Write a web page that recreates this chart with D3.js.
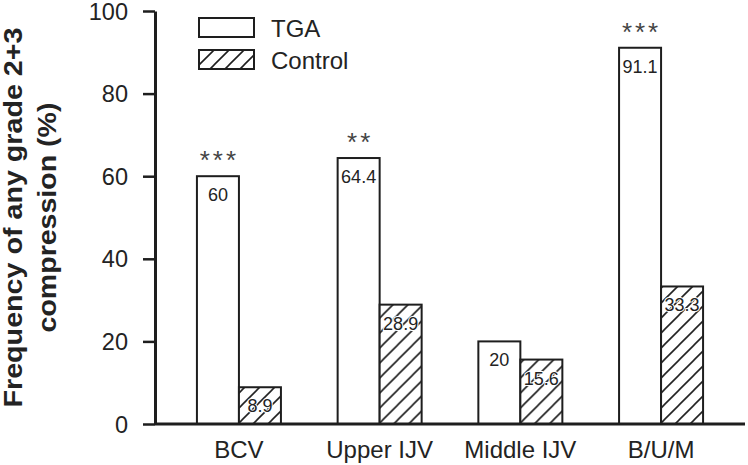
<!DOCTYPE html>
<html>
<head>
<meta charset="utf-8">
<script src="https://cdn.jsdelivr.net/npm/d3@7"></script>
<style>
  html, body { margin: 0; padding: 0; background: #fff; }
  svg { display: block; font-family: Arial, "Liberation Sans", Helvetica, sans-serif; }
</style>
</head>
<body>
<script>
const categories = ["BCV", "Upper IJV", "Middle IJV", "B/U/M"];
const seriesNames = ["TGA", "Control"];
const tgaValues = [60, 64.4, 20, 91.1];
const controlValues = [8.9, 28.9, 15.6, 33.3];
const tgaLabels = ["60", "64.4", "20", "91.1"];
const controlLabels = ["8.9", "28.9", "15.6", "33.3"];
const significance = ["***", "**", "", "***"];
const yTicks = [0, 20, 40, 60, 80, 100];
const yTitleLines = ["Frequency of any grade 2+3", "compression (%)"];

const W = 748, H = 465;
const ink = "#1e1e1e";
const textInk = "#232323";

const svg = d3.select("body").append("svg").attr("width", W).attr("height", H);

const defs = svg.append("defs");
const pat = defs.append("pattern")
  .attr("id", "hatch").attr("patternUnits", "userSpaceOnUse")
  .attr("width", 15).attr("height", 15);
pat.append("rect").attr("width", 15).attr("height", 15).attr("fill", "#fff");
pat.append("path")
  .attr("d", "M-4,4 L4,-4 M0,15 L15,0 M11,19 L19,11")
  .attr("stroke", ink).attr("stroke-width", 1.6).attr("fill", "none");

const x0 = d3.scaleBand().domain(categories).range([155, 745])
  .paddingInner(0.403).paddingOuter(0.298);
const x1 = d3.scaleBand().domain(seriesNames).range([0, x0.bandwidth()]);
const y = d3.scaleLinear().domain([0, 100]).range([424, 11]);

const data = categories.map((c, i) => ({
  cat: c,
  bars: [
    { s: "TGA", v: tgaValues[i], label: tgaLabels[i] },
    { s: "Control", v: controlValues[i], label: controlLabels[i] }
  ],
  sig: significance[i]
}));

const groups = svg.append("g").selectAll("g").data(data).join("g")
  .attr("transform", d => `translate(${x0(d.cat)},0)`);

groups.selectAll("rect").data(d => d.bars).join("rect")
  .attr("x", d => x1(d.s))
  .attr("y", d => y(d.v))
  .attr("width", x1.bandwidth())
  .attr("height", d => y(0) - y(d.v))
  .attr("fill", d => d.s === "TGA" ? "#fff" : "url(#hatch)")
  .attr("stroke", ink).attr("stroke-width", 2);

groups.selectAll("text.val").data(d => d.bars).join("text")
  .attr("class", "val")
  .attr("x", d => x1(d.s) + x1.bandwidth() / 2)
  .attr("y", d => y(d.v) + 25)
  .attr("text-anchor", "middle")
  .attr("font-size", 18).attr("fill", textInk)
  .attr("paint-order", "stroke").attr("stroke", d => d.s === "TGA" ? "none" : "#fff")
  .attr("stroke-width", 2)
  .text(d => d.label);

groups.append("text")
  .attr("x", x1("TGA") + x1.bandwidth() / 2 + 1.5)
  .attr("y", d => y(d.bars[0].v) - 7)
  .attr("text-anchor", "middle")
  .attr("font-size", 26).attr("letter-spacing", 3).attr("fill", "#444")
  .text(d => d.sig);

// x axis
const xAxis = svg.append("g").attr("transform", `translate(0,${y(0)})`)
  .call(d3.axisBottom(x0).tickSize(0).tickPadding(0));
xAxis.select(".domain").attr("d", "M155,0H745").attr("stroke", ink).attr("stroke-width", 3);
xAxis.selectAll(".tick text").attr("y", 34).attr("dy", 0)
  .attr("font-size", 24).attr("fill", textInk)
  .attr("font-family", 'Arial, "Liberation Sans", sans-serif');

// y axis
const yAxis = svg.append("g").attr("transform", "translate(155,0)")
  .call(d3.axisLeft(y).tickValues(yTicks).tickSize(12).tickPadding(15).tickSizeOuter(0));
yAxis.select(".domain").attr("stroke", ink).attr("stroke-width", 3);
yAxis.selectAll(".tick line").attr("stroke", ink).attr("stroke-width", 2.5);
yAxis.selectAll(".tick text").attr("font-size", 23.5).attr("fill", textInk)
  .attr("dy", "0.34em")
  .attr("font-family", 'Arial, "Liberation Sans", sans-serif');

// y title
const yt = svg.append("text")
  .attr("transform", `translate(0,${(y(0) + y(100)) / 2}) rotate(-90)`)
  .attr("text-anchor", "middle").attr("font-weight", "bold")
  .attr("font-size", 25).attr("fill", textInk);
yt.append("tspan").attr("x", 0).attr("y", 22)
  .attr("textLength", 380).attr("lengthAdjust", "spacingAndGlyphs").text(yTitleLines[0]);
yt.append("tspan").attr("x", 0).attr("y", 56)
  .attr("textLength", 230).attr("lengthAdjust", "spacingAndGlyphs").text(yTitleLines[1]);

// legend
const legend = svg.append("g").selectAll("g").data(seriesNames).join("g")
  .attr("transform", (d, i) => `translate(199,${18 + i * 32})`);
legend.append("rect").attr("width", 55).attr("height", 19)
  .attr("fill", d => d === "TGA" ? "#fff" : "url(#hatch)")
  .attr("stroke", ink).attr("stroke-width", 2);
legend.append("text").attr("x", 72).attr("y", 19)
  .attr("font-size", 24).attr("fill", textInk).text(d => d);
</script>
</body>
</html>
